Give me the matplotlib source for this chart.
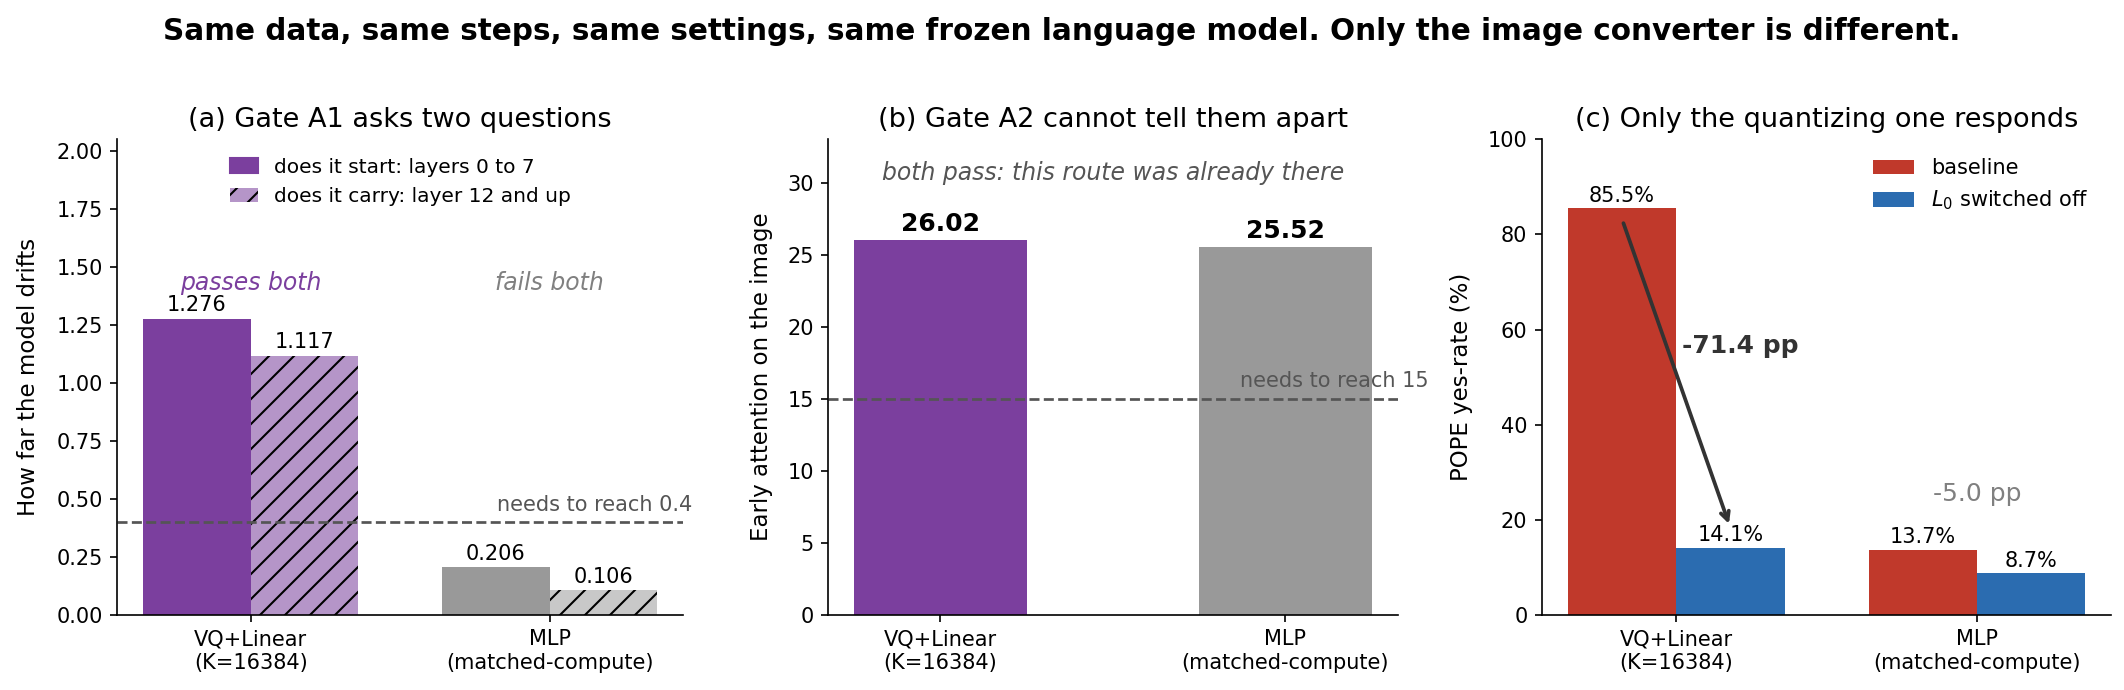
import matplotlib
matplotlib.use('Agg')
import matplotlib.pyplot as plt
import numpy as np

# data
models = ['VQ+Linear\n(K=16384)', 'MLP\n(matched-compute)']
drift_start = [1.276, 0.206]   # layers 0 to 7
drift_carry = [1.117, 0.106]   # layer 12 and up
drift_threshold = 0.4
early_attn = [26.02, 25.52]
attn_threshold = 15
pope_baseline = [85.5, 13.7]
pope_l0_off = [14.1, 8.7]

purple = '#7B3F9E'
purple_light = '#B595C8'
grey = '#999999'
grey_light = '#C8C8C8'
red = '#C0392B'
blue = '#2B6CB0'
dark = '#555555'

dpi = 150
fig = plt.figure(figsize=(2124 / dpi, 690 / dpi), dpi=dpi)
ax1 = fig.add_axes([0.0553, 0.109, 0.2663, 0.689])
ax2 = fig.add_axes([0.390, 0.109, 0.268, 0.689])
ax3 = fig.add_axes([0.726, 0.109, 0.268, 0.689])

x = np.arange(len(models))
w = 0.36

# (a)
b1 = ax1.bar(x - w/2, drift_start, w, color=[purple, grey], label='does it start: layers 0 to 7')
b2 = ax1.bar(x + w/2, drift_carry, w, color=[purple_light, grey_light], hatch='//',
             edgecolor='black', linewidth=0, label='does it carry: layer 12 and up')
for bars, vals in ((b1, drift_start), (b2, drift_carry)):
    for r, v in zip(bars, vals):
        ax1.text(r.get_x() + r.get_width()/2, v + 0.015, f'{v:.3f}', ha='center', va='bottom', fontsize=10)
ax1.axhline(drift_threshold, color=dark, ls='--', lw=1.3)
ax1.text(1.478, drift_threshold + 0.03, 'needs to reach 0.4', ha='right', va='bottom', fontsize=10, color=dark)
ax1.text(0, 1.43, 'passes both', ha='center', va='center', fontsize=11.3, style='italic', color=purple)
ax1.text(1, 1.43, 'fails both', ha='center', va='center', fontsize=11.3, style='italic', color='#808080')
ax1.set_ylim(0, 2.05)
ax1.set_xticks(x)
ax1.set_xticklabels(models)
ax1.set_ylabel('How far the model drifts', fontsize=11, labelpad=8)
ax1.set_title('(a) Gate A1 asks two questions', fontsize=13)
leg = ax1.legend(loc='upper center', frameon=False, fontsize=9.7, handlelength=1.4)
leg.legend_handles[0].set_color(purple)
leg.legend_handles[1].set_facecolor(purple_light)

# (b)
bars = ax2.bar(x, early_attn, 0.5, color=[purple, grey])
for r, v in zip(bars, early_attn):
    ax2.text(r.get_x() + r.get_width()/2, v + 0.3, f'{v:.2f}', ha='center', va='bottom',
             fontsize=12, fontweight='bold')
ax2.axhline(attn_threshold, color=dark, ls='--', lw=1.3)
ax2.text(1.415, attn_threshold + 0.5, 'needs to reach 15', ha='right', va='bottom', fontsize=10, color=dark)
ax2.text(0.5, 30.7, 'both pass: this route was already there', ha='center', va='center',
         fontsize=11.3, style='italic', color=dark)
ax2.set_ylim(0, 33)
ax2.set_xticks(x)
ax2.set_xticklabels(models)
ax2.set_ylabel('Early attention on the image', fontsize=11, labelpad=7)
ax2.set_title('(b) Gate A2 cannot tell them apart', fontsize=13)

# (c)
c1 = ax3.bar(x - w/2, pope_baseline, w, color=red, label='baseline')
c2 = ax3.bar(x + w/2, pope_l0_off, w, color=blue, label='$L_0$ switched off')
for bars_, vals in ((c1, pope_baseline), (c2, pope_l0_off)):
    for r, v in zip(bars_, vals):
        ax3.text(r.get_x() + r.get_width()/2, v + 0.5, f'{v:.1f}%', ha='center', va='bottom', fontsize=10)
ax3.annotate('', xy=(w/2, pope_l0_off[0] + 4.2), xytext=(-w/2, pope_baseline[0] - 2.3),
             arrowprops=dict(arrowstyle='->', color='#333333', lw=1.8))
d0 = pope_l0_off[0] - pope_baseline[0]
d1 = pope_l0_off[1] - pope_baseline[1]
ax3.text(0.02, 56.6, f'{d0:.1f} pp', ha='left', va='center', fontsize=12, fontweight='bold', color='#333333')
ax3.text(1, 25.5, f'{d1:.1f} pp', ha='center', va='center', fontsize=12, color='#808080')
ax3.set_ylim(0, 100)
ax3.set_xticks(x)
ax3.set_xticklabels(models)
ax3.set_ylabel('POPE yes-rate (%)', fontsize=11, labelpad=7)
ax3.set_title('(c) Only the quantizing one responds', fontsize=13)
ax3.legend(loc='upper right', bbox_to_anchor=(0.993, 1.0), frameon=False, fontsize=10)

for ax in (ax1, ax2, ax3):
    ax.spines['top'].set_visible(False)
    ax.spines['right'].set_visible(False)
    ax.tick_params(labelsize=10)

fig.suptitle('Same data, same steps, same settings, same frozen language model. Only the image converter is different.',
             fontsize=14.2, fontweight='bold', y=0.975)

plt.savefig('out.png', dpi=dpi)
